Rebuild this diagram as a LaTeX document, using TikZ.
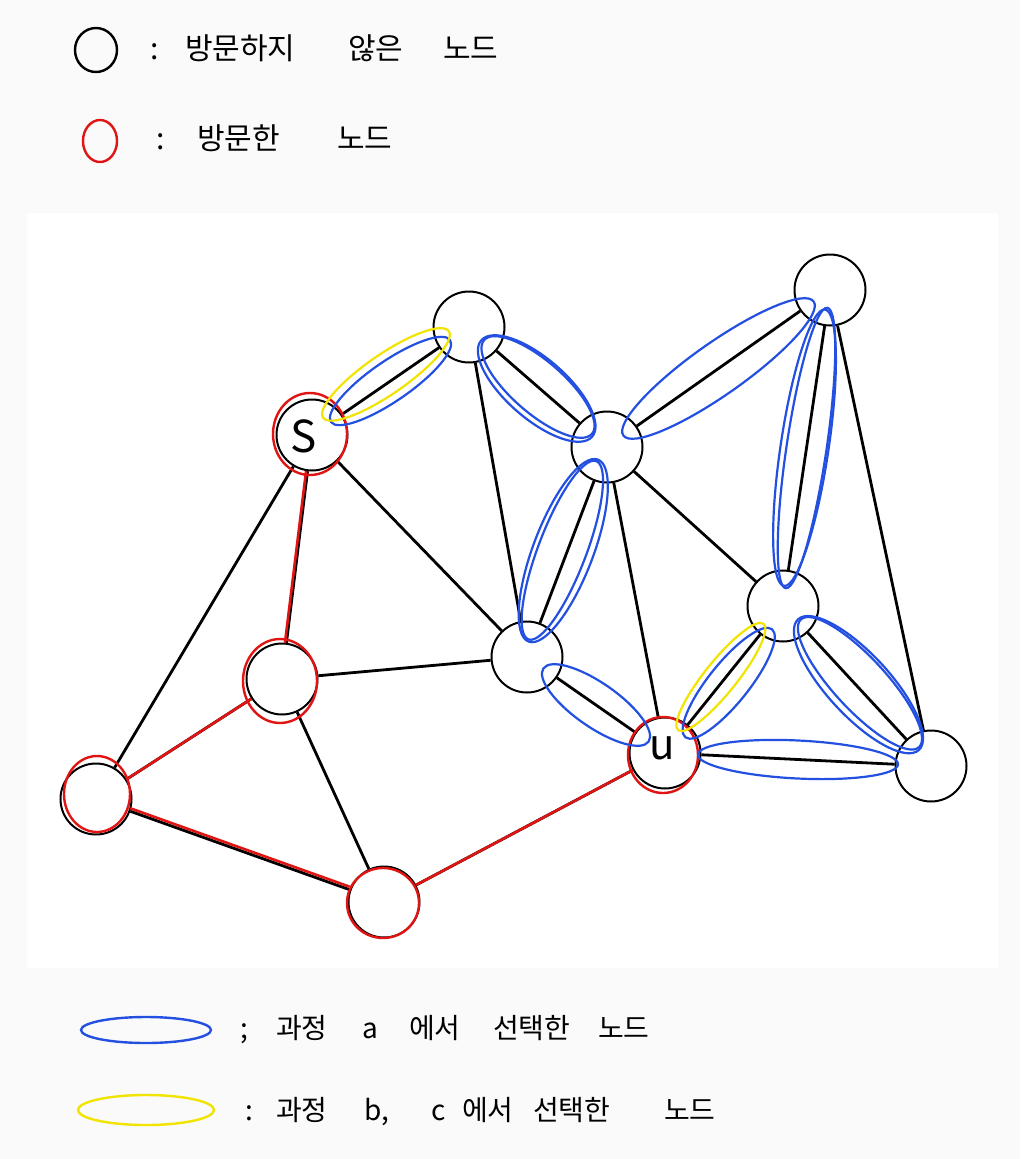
\documentclass[tikz,border=0pt]{standalone}
\usepackage{fontspec}
\newfontfamily\kr{Noto Sans CJK KR}
\usetikzlibrary{calc}
\definecolor{hlblue}{RGB}{35,80,225}
\definecolor{hlyellow}{RGB}{240,228,0}
\definecolor{visred}{RGB}{225,20,20}
\definecolor{pagebg}{RGB}{250,250,250}
% #1 style, #2 node, #3 node, #4 trim, #5 half width, #6 lateral offset
\newcommand\hlband[6]{%
  \draw[#1] let \p1=(#2.center), \p2=(#3.center),
    \n1={atan2(\y2-\y1,\x2-\x1)}, \n2={veclen(\x2-\x1,\y2-\y1)/2-#4}
    in ($(\p1)!0.5!(\p2)$) ++(\n1+90:#6pt) ellipse [x radius=\n2, y radius=#5pt, rotate=\n1];}
\begin{document}
\begin{tikzpicture}[x=1pt,y=-1pt,
  vertex/.style={circle, draw=black, line width=2pt, minimum size=71pt, inner sep=0pt},
  edge/.style={draw=black, line width=2.8pt},
  visedge/.style={draw=visred, line width=2.6pt},
  visring/.style={draw=visred, line width=2.4pt},
  bluehl/.style={draw=hlblue, line width=2.2pt},
  yellowhl/.style={draw=hlyellow, line width=2.2pt},
  legtext/.style={anchor=west, inner sep=0pt, font=\kr\fontsize{30}{36}\selectfont},
  legtextb/.style={anchor=west, inner sep=0pt, font=\kr\fontsize{28}{34}\selectfont},
  nodelabel/.style={inner sep=0pt, font=\kr\fontsize{44}{50}\selectfont}
]
\fill[pagebg] (0,0) rectangle (1020,1159);
\useasboundingbox (0,0) rectangle (1020,1159);
\fill[white] (27,213) rectangle (998,968);

% legend top
\draw[black, line width=2.4pt] (96,50) ellipse [x radius=21, y radius=22];
\node[legtext] (t1) at (150,48) {\makebox[35pt][l]{:}\makebox[163pt][l]{방문하지}\makebox[95pt][l]{않은}노드};
\draw[visred, line width=2.4pt] (100,141) ellipse [x radius=17, y radius=21];
\node[legtext] (t2) at (156,138) {\makebox[41pt][l]{:}\makebox[140pt][l]{방문한}노드};

% graph nodes
\node[vertex] (S) at (312,435) {};
\node[vertex] (A) at (469,327) {};
\node[vertex] (B) at (607,447) {};
\node[vertex] (C) at (830,290) {};
\node[vertex] (D) at (783,606) {};
\node[vertex] (E) at (527,657) {};
\node[vertex] (U) at (665,753) {};
\node[vertex] (F) at (931,766) {};
\node[vertex] (G) at (282,679) {};
\node[vertex] (H) at (96,799) {};
\node[vertex] (I) at (384,902) {};
\node[nodelabel] (sl) at (304,436) {S};
\node[nodelabel, font=\kr\fontsize{42}{48}\selectfont] (ul) at (662,748) {u};

% edges
\foreach \a/\b in {S/A, S/H, S/G, S/E, A/E, A/B, B/E, B/C, B/U, B/D, C/D, C/F, D/U, D/F, U/F, E/U, G/E, G/H, G/I, H/I, I/U}
  \draw[edge] (\a) -- (\b);

% visited (red)
\draw[visedge, transform canvas={shift={(-1.5pt,0pt)}}] (S) -- (G);
\draw[visedge] (G) -- (H);
\draw[visedge, transform canvas={shift={(0pt,3pt)}}] (H) -- (I);
\draw[visedge] (I) -- (U);
\draw[visring] ($(S)+(-2,-1)$) ellipse [x radius=37, y radius=41];
\draw[visring] ($(G)+(-2,2)$) ellipse [x radius=37, y radius=42];
\draw[visring] ($(H)+(1,-5)$) ellipse [x radius=33, y radius=38];
\draw[visring] ($(I)+(-1,1)$) ellipse [x radius=36, y radius=35];
\draw[visring] ($(U)+(-2,2)$) ellipse [x radius=35, y radius=38];

% highlights
\hlband{bluehl}{S}{A}{23}{20}{0}
\hlband{yellowhl}{S}{A}{19}{20}{8}
\hlband{bluehl}{A}{B}{20}{26}{0}
\hlband{bluehl}{A}{B}{18}{30}{-2}
\hlband{bluehl}{B}{C}{20}{26}{0}
\hlband{bluehl}{C}{D}{18}{20}{0}
\hlband{bluehl}{C}{D}{20}{24}{-2}
\hlband{bluehl}{B}{E}{17}{24}{-5}
\hlband{bluehl}{B}{E}{15}{30}{-4}
\hlband{bluehl}{E}{U}{20}{22}{0}
\hlband{bluehl}{U}{D}{25}{20}{-6}
\hlband{yellowhl}{U}{D}{26}{16}{4}
\hlband{bluehl}{D}{F}{22}{26}{4}
\hlband{bluehl}{D}{F}{20}{31}{2}
\hlband{bluehl}{U}{F}{33}{19}{0}

% legend bottom
\draw[hlblue, line width=2.4pt] (146,1030) ellipse [x radius=65, y radius=13];
\node[legtextb] (t3) at (240,1030) {\makebox[36pt][l]{;}\makebox[86pt][l]{과정}\makebox[47pt][l]{a}\makebox[84pt][l]{에서}\makebox[105pt][l]{선택한}노드};
\draw[hlyellow, line width=2.4pt] (146,1110) ellipse [x radius=68, y radius=15];
\node[legtextb] (t4) at (245,1112) {\makebox[31pt][l]{:}\makebox[88pt][l]{과정}\makebox[67pt][l]{b,}\makebox[31pt][l]{c}\makebox[71pt][l]{에서}\makebox[131pt][l]{선택한}노드};
\end{tikzpicture}
\end{document}
